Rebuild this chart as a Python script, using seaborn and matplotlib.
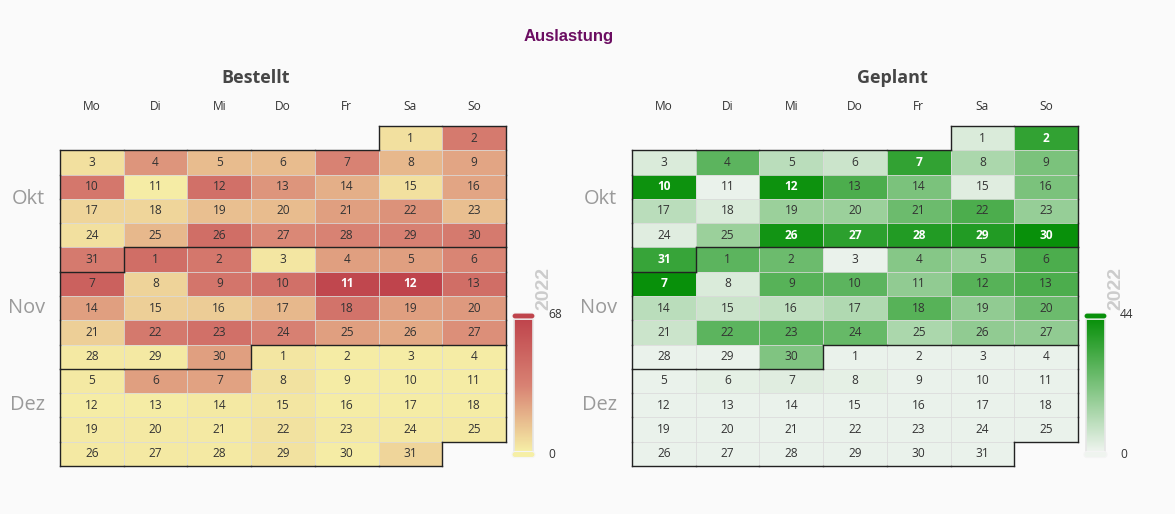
import datetime as dt
import numpy as np
import pandas as pd
import matplotlib
matplotlib.use("Agg")
import matplotlib.pyplot as plt
import seaborn as sns
from matplotlib.colors import LinearSegmentedColormap
from matplotlib.collections import LineCollection
from matplotlib.patches import FancyBboxPatch

# --- Daten, Okt - Dez 2022 ---
jahr = 2022
monate = ["Okt", "Nov", "Dez"]
wochentage = ["Mo", "Di", "Mi", "Do", "Fr", "Sa", "So"]

bestellt_okt = [5, 38, 5, 28, 16, 16, 34, 17, 23, 40, 1, 44, 28, 20, 5, 23, 8, 8, 15, 16,
                25, 29, 15, 5, 17, 45, 32, 34, 35, 38, 38]
bestellt_nov = [45, 40, 3, 25, 25, 33, 52, 9, 41, 44, 66, 68, 45, 25, 10, 11, 17, 42, 25, 27,
                10, 39, 44, 35, 25, 22, 30, 2, 2, 25]
bestellt_dez = [3, 1, 1, 1, 2, 25, 24, 4, 1, 1, 1, 1, 1, 2, 3, 1, 1, 1, 2, 2,
                2, 4, 2, 2, 2, 2, 2, 2, 4, 1, 8]

geplant_okt = [4, 36, 4, 28, 10, 7, 36, 13, 22, 43, 1, 43, 31, 22, 3, 22, 10, 4, 16, 16,
               25, 31, 17, 3, 16, 42, 37, 39, 39, 44, 35]
geplant_nov = [28, 25, 1, 20, 17, 31, 44, 4, 29, 28, 18, 29, 31, 10, 7, 9, 12, 29, 18, 25,
               7, 28, 28, 26, 13, 18, 18, 1, 1, 21]
geplant_dez = [1, 1, 1, 1, 1, 2, 3, 2, 1, 1, 1, 1, 1, 1, 1, 1, 1, 1, 1, 1,
               1, 1, 1, 1, 1, 1, 1, 1, 1, 1, 1]

farben_bestellt = ["#f6efa6", "#d88273", "#bf444c"]
farben_geplant = ["#eff4ef", "#08900a"]

# --- Setup ---
sns.set_theme(style="white")
plt.rcParams["font.family"] = ["Open Sans", "DejaVu Sans"]

W, H, DPI = 1175, 514, 100
BG = "#fafafa"
fig = plt.figure(figsize=(W / DPI, H / DPI), dpi=DPI, facecolor=BG)


def px(x0, y0, x1, y1):
    # pixel box (top-left origin) -> figure fraction
    return [x0 / W, 1 - y1 / H, (x1 - x0) / W, (y1 - y0) / H]


start = dt.date(jahr, 10, 1)
ende = dt.date(jahr, 12, 31)
wochenstart = start - dt.timedelta(days=start.weekday())
tage = pd.date_range(start, ende, freq="D")
n_wochen = (ende - wochenstart).days // 7 + 1


def kalender(werte):
    grid = np.full((n_wochen, 7), np.nan)
    monat_id = np.full((n_wochen, 7), -1)
    tag_nr = np.zeros((n_wochen, 7), dtype=int)
    for d, v in zip(tage, werte):
        r = (d.date() - wochenstart).days // 7
        c = d.weekday()
        grid[r, c] = v
        monat_id[r, c] = d.month
        tag_nr[r, c] = d.day
    return grid, monat_id, tag_nr


def zeichne(ax, cax, werte, cmap, titel, titel_x, bar_px):
    grid, monat_id, tag_nr = kalender(werte)
    vmax = max(werte)
    sns.heatmap(grid, ax=ax, cmap=cmap, vmin=0, vmax=vmax, mask=np.isnan(grid),
                linewidths=0, cbar=True, cbar_ax=cax,
                xticklabels=False, yticklabels=False)
    ax.set_facecolor("none")

    # feine Zellgrenzen nur fuer belegte Tage
    zellen = []
    for r in range(n_wochen):
        for c in range(7):
            if not np.isnan(grid[r, c]):
                zellen += [[(c, r), (c + 1, r)], [(c, r + 1), (c + 1, r + 1)],
                           [(c, r), (c, r + 1)], [(c + 1, r), (c + 1, r + 1)]]
    ax.add_collection(LineCollection(zellen, colors=[(0.86, 0.86, 0.86, 0.55)],
                                     linewidths=0.7, zorder=2))

    # Tageszahlen
    for r in range(n_wochen):
        for c in range(7):
            if np.isnan(grid[r, c]):
                continue
            hell = grid[r, c] / vmax >= 0.78
            ax.text(c + 0.5, r + 0.5, str(tag_nr[r, c]), ha="center", va="center",
                    fontsize=8.6, color="white" if hell else "#333333",
                    fontweight="bold" if hell else "normal", zorder=4)

    # Monatsgrenzen
    segs = []
    R, C = monat_id.shape
    for r in range(R + 1):
        for c in range(C):
            oben = monat_id[r - 1, c] if r > 0 else -1
            unten = monat_id[r, c] if r < R else -1
            if oben != unten:
                segs.append([(c, r), (c + 1, r)])
    for r in range(R):
        for c in range(C + 1):
            li = monat_id[r, c - 1] if c > 0 else -1
            re_ = monat_id[r, c] if c < C else -1
            if li != re_:
                segs.append([(c, r), (c, r + 1)])
    ax.add_collection(LineCollection(segs, colors="#222222", linewidths=1.0,
                                     zorder=5, clip_on=False, capstyle="projecting"))

    # Wochentage oben
    for c, name in enumerate(wochentage):
        ax.annotate(name, xy=(c + 0.5, 0), xycoords="data", xytext=(0, 13.7),
                    textcoords="offset points", ha="center", va="center",
                    fontsize=8.6, color="#333333")

    # Monatsnamen links
    for m, name in zip([10, 11, 12], monate):
        rows = np.where((monat_id == m).any(axis=1))[0]
        ym = (rows.min() + rows.max() + 1) / 2
        ax.annotate(name, xy=(0, ym), xycoords="data", xytext=(-10.8, 0),
                    textcoords="offset points", ha="right", va="center",
                    fontsize=14.4, color="#9a9a9a")

    fig.text(titel_x / W, 1 - 78 / H, titel, ha="center", va="center",
             fontsize=13, fontweight="bold", color="#464646")

    # visualMap-artige Legende
    cb = ax.collections[0].colorbar
    cb.set_ticks([])
    cb.outline.set_edgecolor("#e6e6e6")
    cb.outline.set_linewidth(1.2)
    bx0, by0, bx1, by1 = bar_px
    ov.text(bx1 + 11, 289, str(jahr), rotation=90, ha="center",
            va="center", fontsize=14, fontweight="bold", color="#cccccc",
            family="Liberation Sans", zorder=1)
    for yc, farbe in [(by0 - 3, cmap(1.0)), (by1 + 2.5, cmap(0.0))]:
        ov.add_patch(FancyBboxPatch((bx0 - 2, yc - 3), (bx1 - bx0) + 4, 6,
                                    boxstyle="round,pad=0,rounding_size=3",
                                    fc=farbe, ec="#f4f4f4", lw=0.8, zorder=3))
    ov.text(bx1 + 15, by0 - 4, str(vmax), ha="left", va="center", fontsize=8.6,
            color="#333333", zorder=4)
    ov.text(bx1 + 15, by1 + 2, "0", ha="left", va="center", fontsize=8.6,
            color="#333333", zorder=4)


ov = fig.add_axes([0, 0, 1, 1], zorder=10)
ov.set_xlim(0, W)
ov.set_ylim(H, 0)
ov.axis("off")
ov.patch.set_alpha(0)

cmap_b = LinearSegmentedColormap.from_list("bestellt", farben_bestellt)
cmap_g = LinearSegmentedColormap.from_list("geplant", farben_geplant)

ax1 = fig.add_axes(px(60, 126, 506, 466))
cax1 = fig.add_axes(px(514, 319, 533, 452))
zeichne(ax1, cax1, bestellt_okt + bestellt_nov + bestellt_dez, cmap_b, "Bestellt", 256,
        (514, 319, 533, 452))

ax2 = fig.add_axes(px(632, 126, 1078, 466))
cax2 = fig.add_axes(px(1086, 319, 1105, 452))
zeichne(ax2, cax2, geplant_okt + geplant_nov + geplant_dez, cmap_g, "Geplant", 892,
        (1086, 319, 1105, 452))

fig.text(569 / W, 1 - 36 / H, "Auslastung", ha="center", va="center", fontsize=12,
         fontweight="bold", color="#6b0d61", family="Liberation Sans")

fig.savefig("out.png", dpi=DPI, facecolor=BG)
